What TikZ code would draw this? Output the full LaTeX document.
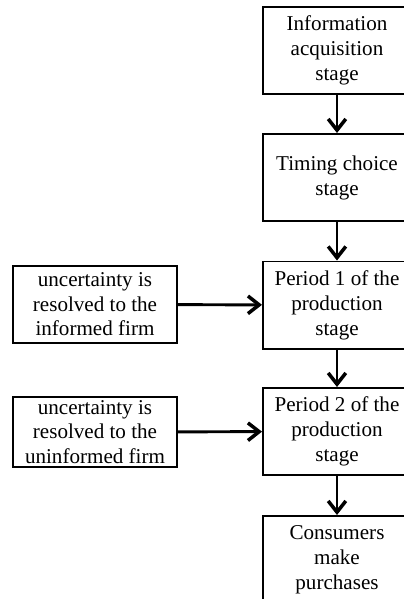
\documentclass[tikz,border=0pt]{standalone}
\usepackage{fontspec}
\setmainfont{Liberation Serif}
\usetikzlibrary{arrows.meta}

\begin{document}
\begin{tikzpicture}[
  x=0.025cm, y=-0.025cm,
  stagebox/.style={rectangle, draw, line width=1.4pt, minimum width=3.7cm, minimum height=2.175cm, align=center, inner sep=1pt, font=\fontsize{15}{17.8}\selectfont},
  infobox/.style={rectangle, draw, line width=1.4pt, minimum width=4.1cm, align=center, inner sep=1pt, font=\fontsize{15}{17.4}\selectfont},
  flow/.style={-{Straight Barb[length=2.8mm, width=4.4mm, line width=2.5pt]}, line width=2.1pt}
]
\useasboundingbox (0,0) rectangle (403,599);

% Stages of the game
\node[stagebox] (info) at (337, 50.5) {Information\\acquisition\\stage};
\node[stagebox] (timing) at (337, 177.5) {Timing choice\\stage};
\node[stagebox] (period1) at (337, 305) {Period 1 of the\\production\\stage};
\node[stagebox] (period2) at (337, 431.5) {Period 2 of the\\production\\stage};
\node[stagebox] (buy) at (337, 559.5) {Consumers\\make\\purchases};

% Information events
\node[infobox, minimum height=1.925cm] (informed) at (95, 304.5) {uncertainty is\\resolved to the\\informed firm};
\node[infobox, minimum height=1.75cm] (uninformed) at (95, 432) {uncertainty is\\resolved to the\\uninformed firm};

% Arrows between stages
\draw[flow] (info) -- (timing);
\draw[flow] (timing) -- (period1);
\draw[flow] (period1) -- (period2);
\draw[flow] (period2) -- (buy);

% Arrows from events
\draw[flow] (informed) -- (period1);
\draw[flow] (uninformed) -- (period2);

\end{tikzpicture}
\end{document}
